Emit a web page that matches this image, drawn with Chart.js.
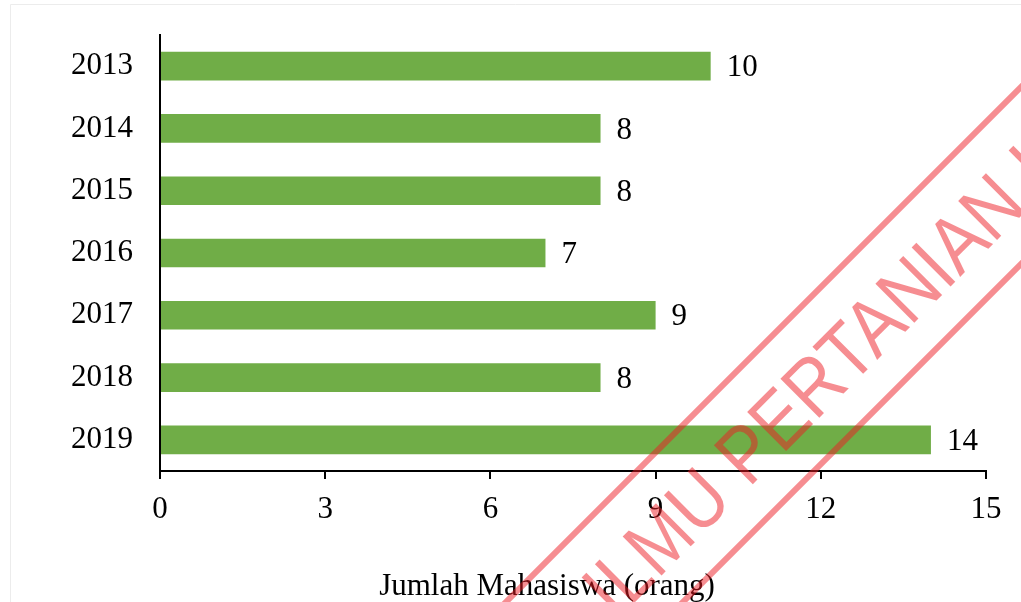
<!DOCTYPE html>
<html><head><meta charset="utf-8">
<script src="https://cdn.jsdelivr.net/npm/chart.js@4/dist/chart.umd.min.js"></script>
<style>html,body{margin:0;padding:0;background:#fff;overflow:hidden}canvas{display:block}</style>
</head><body>
<canvas id="c" width="1021" height="602"></canvas>
<script>
const years = ['2013', '2014', '2015', '2016', '2017', '2018', '2019'];
const mahasiswa = [10, 8, 8, 7, 9, 8, 14];
const xTickValues = [0, 3, 6, 9, 12, 15];
const axisTitle = 'Jumlah Mahasiswa (orang)';
const watermarkText = 'ILMU PERTANIAN INDONESIA';

const SERIF = '"Liberation Serif", "Times New Roman", serif';

const framePlugin = {
  id: 'frame',
  beforeDraw(chart) {
    const ctx = chart.ctx;
    ctx.save();
    ctx.fillStyle = '#fff';
    ctx.fillRect(0, 0, chart.width, chart.height);
    ctx.strokeStyle = '#ececec';
    ctx.lineWidth = 1;
    ctx.beginPath();
    ctx.moveTo(10.5, chart.height);
    ctx.lineTo(10.5, 4.5);
    ctx.lineTo(chart.width, 4.5);
    ctx.stroke();
    ctx.restore();
  }
};

const valueLabels = {
  id: 'valueLabels',
  afterDatasetsDraw(chart) {
    const ctx = chart.ctx;
    const meta = chart.getDatasetMeta(0);
    ctx.save();
    ctx.font = '31px ' + SERIF;
    ctx.fillStyle = '#000';
    ctx.textAlign = 'left';
    ctx.textBaseline = 'middle';
    meta.data.forEach((bar, i) => {
      ctx.fillText(String(chart.data.datasets[0].data[i]), bar.x + 16, bar.y + 2);
    });
    ctx.restore();
  }
};

const titlePlugin = {
  id: 'axisTitleText',
  afterDraw(chart) {
    const ctx = chart.ctx;
    ctx.save();
    ctx.font = '31px ' + SERIF;
    ctx.fillStyle = '#000';
    ctx.textAlign = 'center';
    ctx.textBaseline = 'alphabetic';
    ctx.fillText(axisTitle, 547, 595);
    ctx.restore();
  }
};

const watermark = {
  id: 'watermark',
  afterDraw(chart) {
    const ctx = chart.ctx;
    ctx.save();
    ctx.globalAlpha = 0.5;
    ctx.strokeStyle = 'rgb(237,28,36)';
    ctx.fillStyle = 'rgb(237,28,36)';
    ctx.lineWidth = 6;
    [1108, 1285].forEach(c => {
      ctx.beginPath();
      ctx.moveTo(c + 60, -60);
      ctx.lineTo(c - 720, 720);
      ctx.stroke();
    });
    ctx.translate(616, 621);
    ctx.rotate(-Math.PI / 4);
    ctx.scale(0.88, 1);
    ctx.font = '80px "Liberation Sans", Arial, sans-serif';
    ctx.textBaseline = 'alphabetic';
    ctx.textAlign = 'left';
    ctx.fillText(watermarkText, 0, 0);
    ctx.restore();
  }
};

new Chart(document.getElementById('c'), {
  type: 'bar',
  data: {
    labels: years,
    datasets: [{
      data: mahasiswa,
      backgroundColor: '#70AD47',
      borderWidth: 0,
      barPercentage: 0.46,
      categoryPercentage: 1.0
    }]
  },
  options: {
    indexAxis: 'y',
    responsive: false,
    animation: false,
    devicePixelRatio: 1,
    layout: { padding: { top: 35, right: 35, bottom: 0, left: 0 } },
    plugins: { legend: { display: false }, tooltip: { enabled: false }, title: { display: false } },
    scales: {
      x: {
        type: 'linear',
        min: 0,
        max: 15,
        afterBuildTicks(scale) { scale.ticks = xTickValues.map(v => ({ value: v })); },
        afterFit(scale) { scale.height = 131; },
        grid: { display: true, drawOnChartArea: false, drawTicks: true, tickLength: 8, color: '#000', lineWidth: 2 },
        border: { display: true, color: '#000', width: 2 },
        ticks: { color: '#000', font: { family: SERIF, size: 31 }, padding: 12, maxRotation: 0, autoSkip: false }
      },
      y: {
        afterFit(scale) { scale.width = 160; scale.paddingTop = 0; scale.paddingBottom = 0; },
        grid: { display: false, drawTicks: false },
        border: { display: true, color: '#000', width: 2 },
        ticks: { color: '#000', font: { family: SERIF, size: 31 }, padding: 27 }
      }
    }
  },
  plugins: [framePlugin, valueLabels, titlePlugin, watermark]
});
</script>
</body></html>
